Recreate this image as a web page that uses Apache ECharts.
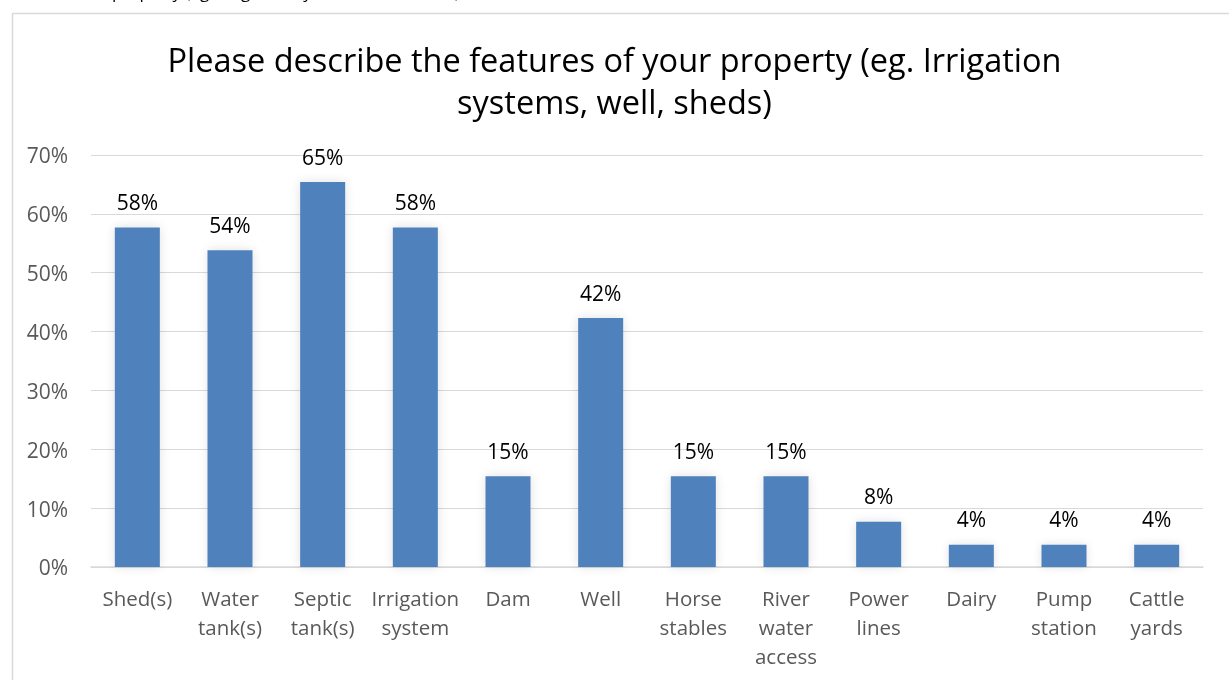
<!DOCTYPE html>
<html>
<head>
<meta charset="utf-8">
<script src="https://cdn.jsdelivr.net/npm/echarts@6/dist/echarts.min.js"></script>
<style>
html,body{margin:0;padding:0;background:#fff;}
#chart{width:1229px;height:680px;}
</style>
</head>
<body>
<div id="chart"></div>
<script>
const categories = ["Shed(s)", "Water\ntank(s)", "Septic\ntank(s)", "Irrigation\nsystem", "Dam", "Well", "Horse\nstables", "River\nwater\naccess", "Power\nlines", "Dairy", "Pump\nstation", "Cattle\nyards"];
const values = [57.7, 53.8, 65.4, 57.7, 15.4, 42.3, 15.4, 15.4, 7.7, 3.8, 3.8, 3.8];
const dataLabels = ["58%", "54%", "65%", "58%", "15%", "42%", "15%", "15%", "8%", "4%", "4%", "4%"];
const yTicks = [0, 10, 20, 30, 40, 50, 60, 70];
const titleText = "Please describe the features of your property (eg. Irrigation\nsystems, well, sheds)";

const font = "Open Sans";
const chart = echarts.init(document.getElementById('chart'));
chart.setOption({
  animation: false,
  backgroundColor: '#fff',
  title: {
    text: titleText,
    left: 'center',
    top: 37,
    textStyle: { fontFamily: font, fontSize: 32.5, fontWeight: 'normal', color: '#000', lineHeight: 42 }
  },
  graphic: [
    { type: 'rect', left: 10, top: 11, shape: { width: 1260, height: 700 }, style: { fill: 'none', stroke: '#d9d9d9', lineWidth: 1.5 }, silent: true, z: -1 },
    { type: 'text', left: 112, top: -15, style: { text: 'property (eg. Irrigation systems, well, sheds)', font: '17px ' + font, fill: '#000' }, silent: true }
  ],
  grid: { left: 91, right: 26, top: 155, bottom: 113, containLabel: false },
  xAxis: {
    type: 'category',
    data: categories,
    axisLine: { lineStyle: { color: '#d9d9d9', width: 1.5 } },
    axisTick: { show: false },
    axisLabel: { fontFamily: font, fontSize: 20.5, color: '#595959', lineHeight: 29, margin: 19, interval: 0 }
  },
  yAxis: {
    type: 'value',
    min: 0, max: 70, interval: 10,
    axisLine: { show: false },
    axisTick: { show: false },
    splitLine: { lineStyle: { color: '#d9d9d9', width: 1 } },
    axisLabel: {
      fontFamily: font, fontSize: 21, color: '#595959', margin: 23,
      formatter: v => yTicks.includes(v) ? '{a|' + v + '%}' : '',
      rich: { a: { fontFamily: font, fontSize: 21, color: '#595959', padding: [5, 0, 0, 0] } }
    }
  },
  series: [{
    type: 'bar',
    data: values,
    barWidth: 45,
    itemStyle: { color: '#4f81bd', shadowBlur: 10, shadowColor: 'rgba(0,0,0,0.12)' },
    label: {
      show: true, position: 'top', distance: 13,
      fontFamily: font, fontSize: 21, color: '#000',
      formatter: p => dataLabels[p.dataIndex]
    }
  }]
});
</script>
</body>
</html>
